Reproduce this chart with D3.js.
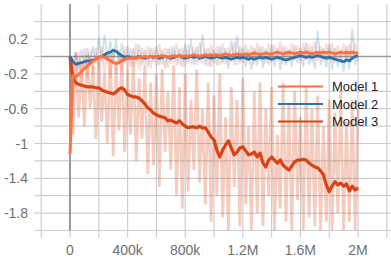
<!DOCTYPE html>
<html>
<head>
<meta charset="utf-8">
<script src="https://cdn.jsdelivr.net/npm/d3@7"></script>
<style>
    body { margin: 0; background: #fff; }
    text { font-family: "Liberation Sans", Arial, sans-serif; }
</style>
</head>
<body>
<script>
// Training steps in thousands, one point every 20k
var stepsK = [0, 20, 40, 60, 80, 100, 120, 140, 160, 180,
    200, 220, 240, 260, 280, 300, 320, 340, 360, 380,
    400, 420, 440, 460, 480, 500, 520, 540, 560, 580,
    600, 620, 640, 660, 680, 700, 720, 740, 760, 780,
    800, 820, 840, 860, 880, 900, 920, 940, 960, 980,
    1000, 1020, 1040, 1060, 1080, 1100, 1120, 1140, 1160, 1180,
    1200, 1220, 1240, 1260, 1280, 1300, 1320, 1340, 1360, 1380,
    1400, 1420, 1440, 1460, 1480, 1500, 1520, 1540, 1560, 1580,
    1600, 1620, 1640, 1660, 1680, 1700, 1720, 1740, 1760, 1780,
    1800, 1820, 1840, 1860, 1880, 1900, 1920, 1940, 1960, 1980,
    2000];

var seriesNames = ["Model 1", "Model 2", "Model 3"];

// smoothed values (bold lines)
var model1 = [-1.12, -0.22, -0.23, -0.21, -0.17, -0.14, -0.11, -0.08, -0.05, -0.03,
    -0.01, 0.0, -0.01, -0.03, -0.05, -0.07, -0.08, -0.07, -0.05, -0.03,
    -0.02, -0.02, -0.01, -0.02, -0.01, -0.01, 0.0, -0.01, 0.0, -0.01,
    0.0, 0.0, 0.01, 0.0, -0.01, 0.0, 0.01, 0.0, 0.01, 0.0,
    0.01, 0.0, 0.01, 0.02, 0.01, 0.0, 0.01, 0.02, 0.01, 0.02,
    0.01, 0.02, 0.01, 0.02, 0.03, 0.02, 0.01, 0.02, 0.03, 0.02,
    0.02, 0.03, 0.02, 0.03, 0.04, 0.03, 0.02, 0.03, 0.04, 0.03,
    0.03, 0.04, 0.05, 0.04, 0.03, 0.04, 0.05, 0.04, 0.03, 0.04,
    0.05, 0.04, 0.05, 0.04, 0.03, 0.04, 0.05, 0.04, 0.05, 0.04,
    0.05, 0.04, 0.03, 0.04, 0.05, 0.04, 0.05, 0.04, 0.05, 0.04,
    0.04];

var model2 = [0.0, -0.06, -0.09, -0.08, -0.07, -0.06, -0.05, -0.05, -0.04, -0.03,
    -0.01, 0.0, 0.02, 0.04, 0.05, 0.07, 0.06, 0.03, 0.01, -0.01,
    0.0, -0.01, -0.02, -0.01, 0.0, -0.01, -0.02, -0.01, 0.0, -0.01,
    0.0, -0.02, -0.01, 0.0, -0.01, -0.02, -0.01, 0.0, 0.01, -0.01,
    -0.02, -0.01, 0.0, -0.01, 0.0, -0.02, -0.01, 0.0, -0.01, -0.02,
    -0.01, 0.0, -0.01, -0.02, -0.01, -0.02, -0.03, -0.02, -0.01, -0.02,
    -0.01, -0.02, -0.03, -0.02, -0.03, -0.02, -0.01, -0.02, -0.01, -0.02,
    -0.03, -0.02, -0.01, -0.02, -0.03, -0.04, -0.03, -0.02, -0.01, 0.0,
    0.01, 0.0, -0.01, 0.0, -0.01, 0.0, 0.01, 0.0, -0.01, -0.02,
    -0.01, -0.02, -0.03, -0.04, -0.05, -0.06, -0.04, -0.05, -0.02, 0.0,
    0.01];

var model3 = [0.0, -0.25, -0.30, -0.32, -0.33, -0.34, -0.35, -0.35, -0.35, -0.36,
    -0.36, -0.385, -0.40, -0.41, -0.42, -0.43, -0.41, -0.375, -0.36, -0.385,
    -0.44, -0.45, -0.465, -0.465, -0.48, -0.51, -0.545, -0.59, -0.615, -0.65,
    -0.67, -0.685, -0.695, -0.705, -0.74, -0.73, -0.75, -0.765, -0.74, -0.775,
    -0.80, -0.82, -0.81, -0.81, -0.82, -0.80, -0.82, -0.82, -0.87, -0.925,
    -0.96, -1.075, -1.155, -1.075, -1.02, -0.97, -1.05, -1.13, -1.10, -1.05,
    -1.04, -1.085, -1.13, -1.12, -1.10, -1.155, -1.11, -1.225, -1.27, -1.19,
    -1.155, -1.19, -1.225, -1.19, -1.25, -1.28, -1.305, -1.26, -1.21, -1.19,
    -1.19, -1.18, -1.19, -1.225, -1.25, -1.27, -1.28, -1.315, -1.36, -1.475,
    -1.555, -1.49, -1.44, -1.475, -1.455, -1.49, -1.465, -1.545, -1.49, -1.535,
    -1.51];

// raw values (faint lines)
var model1Raw = [-1.12, -0.05, -0.35, 0.05, -0.3, 0.1, -0.25, 0.08, -0.2, 0.1,
    -0.15, 0.12, -0.2, 0.05, -0.25, 0.1, -0.2, 0.08, -0.18, 0.12,
    -0.15, 0.1, -0.12, 0.15, -0.15, 0.1, -0.1, 0.12, -0.14, 0.1,
    -0.12, 0.14, -0.1, 0.1, -0.13, 0.12, -0.08, 0.15, -0.1, 0.1,
    -0.12, 0.13, -0.09, 0.11, -0.1, 0.16, -0.08, 0.1, -0.12, 0.14,
    -0.07, 0.12, -0.1, 0.15, -0.09, 0.1, -0.06, 0.17, -0.1, 0.12,
    -0.08, 0.14, -0.06, 0.13, -0.1, 0.16, -0.05, 0.12, -0.08, 0.15,
    -0.07, 0.14, -0.04, 0.17, -0.09, 0.12, -0.06, 0.15, -0.05, 0.13,
    -0.08, 0.16, -0.04, 0.14, -0.07, 0.17, -0.05, 0.12, -0.06, 0.15,
    -0.04, 0.16, -0.07, 0.13, -0.05, 0.15, -0.06, 0.14, -0.04, 0.16,
    -0.05];

var model2Raw = [0.0, -0.12, 0.05, -0.15, 0.08, -0.12, 0.1, -0.1, 0.12, -0.08,
    0.22, -0.05, 0.25, -0.02, 0.18, -0.05, 0.2, -0.1, 0.15, -0.08,
    0.12, -0.12, 0.1, -0.08, 0.14, -0.1, 0.08, -0.12, 0.1, -0.06,
    0.12, -0.1, 0.08, -0.14, 0.1, -0.08, 0.12, -0.1, 0.09, -0.12,
    0.14, -0.08, 0.2, -0.1, 0.12, -0.06, 0.26, -0.1, 0.1, -0.12,
    0.08, -0.1, 0.12, -0.08, 0.1, -0.14, 0.18, -0.1, 0.24, -0.08,
    0.1, -0.12, 0.08, -0.15, 0.1, -0.1, 0.12, -0.13, 0.09, -0.1,
    0.14, -0.12, 0.1, -0.15, 0.12, -0.1, 0.08, -0.12, 0.14, -0.08,
    0.1, -0.12, 0.16, -0.1, 0.12, -0.14, 0.3, -0.1, 0.1, -0.12,
    0.14, -0.15, 0.1, -0.12, 0.08, -0.18, 0.12, -0.15, 0.32, -0.1,
    0.05];

var model3Raw = [0.0, -0.9, 0.05, -0.7, -0.05, -0.8, 0.02, -0.6, -0.1, -0.95,
    0.0, -0.75, -0.2, -1.0, 0.05, -1.15, -0.1, -0.85, 0.0, -1.1,
    -0.15, -0.9, -0.05, -1.2, -0.25, -0.95, -0.1, -1.35, -0.3, -1.25,
    -0.2, -1.5, -0.15, -1.1, -0.4, -1.3, -0.1, -1.6, -0.35, -1.75,
    -0.2, -1.55, -0.5, -1.3, -0.15, -1.45, -0.6, -1.7, -0.3, -1.9,
    -0.45, -1.6, -0.2, -1.85, -0.7, -2.0, -0.35, -1.5, -0.5, -1.95,
    -0.25, -1.7, -0.8, -2.0, -0.4, -1.8, -0.3, -1.95, -0.6, -1.6,
    -0.35, -2.0, -0.9, -1.75, -0.3, -1.9, -0.55, -2.0, -0.4, -1.65,
    -0.7, -2.0, -0.35, -1.85, -0.6, -1.95, -0.45, -2.0, -0.8, -1.9,
    -0.5, -2.0, -0.65, -1.8, -0.4, -2.0, -0.75, -1.9, -0.5, -2.0,
    -0.6];

var colors = ["#ff7043", "#2b74a8", "#d84315"];

var xTickValues = [0, 400000, 800000, 1200000, 1600000, 2000000];
var xTickLabels = ["0", "400k", "800k", "1.2M", "1.6M", "2M"];
var yTickValues = [0.2, -0.2, -0.6, -1, -1.4, -1.8];
var yTickLabels = ["0.2", "-0.2", "-0.6", "-1", "-1.4", "-1.8"];
var xGrid = [-200000, 0, 200000, 400000, 600000, 800000, 1000000,
    1200000, 1400000, 1600000, 1800000, 2000000, 2200000];
var yGrid = [0.4, 0.2, 0, -0.2, -0.4, -0.6, -0.8, -1, -1.2, -1.4,
    -1.6, -1.8, -2];

var width = 391,
    height = 262;

var svg = d3.select("body").append("svg")
    .attr("width", width)
    .attr("height", height);

var xScale = d3.scaleLinear()
    .domain([-200000, 2200000])
    .range([41.2, 386.8]);
var yScale = d3.scaleLinear()
    .domain([-2, 0.6])
    .range([230.5, 4.3]);

var tick = 7;

// grid
var grid = svg.append("g");
grid.selectAll("line.h")
    .data(yGrid)
    .enter().append("line")
    .attr("x1", xScale(-200000) - tick)
    .attr("x2", width)
    .attr("y1", function (d) { return yScale(d); })
    .attr("y2", function (d) { return yScale(d); })
    .attr("stroke", "#cfcfcf")
    .attr("stroke-width", 1.2);
grid.selectAll("line.v")
    .data(xGrid)
    .enter().append("line")
    .attr("x1", function (d) { return xScale(d); })
    .attr("x2", function (d) { return xScale(d); })
    .attr("y1", yScale(0.6))
    .attr("y2", yScale(-2) + tick)
    .attr("stroke", "#cfcfcf")
    .attr("stroke-width", 1.2);

// zero lines
svg.append("line")
    .attr("x1", xScale(-200000)).attr("x2", width)
    .attr("y1", yScale(0)).attr("y2", yScale(0))
    .attr("stroke", "#9a9a9a").attr("stroke-width", 1.6);
svg.append("line")
    .attr("x1", xScale(0)).attr("x2", xScale(0))
    .attr("y1", yScale(0.6)).attr("y2", yScale(-2))
    .attr("stroke", "#9a9a9a").attr("stroke-width", 2);

svg.append("clipPath").attr("id", "plot")
    .append("rect")
    .attr("x", xScale(-200000)).attr("y", yScale(0.6))
    .attr("width", xScale(2200000) - xScale(-200000))
    .attr("height", yScale(-2) - yScale(0.6));

var line = d3.line()
    .x(function (d, i) { return xScale(stepsK[i] * 1000); })
    .y(function (d) { return yScale(d); });

var plot = svg.append("g").attr("clip-path", "url(#plot)");

// faint raw lines
[[model3Raw, 2, 0.27, 2.8], [model1Raw, 0, 0.25, 2], [model2Raw, 1, 0.22, 1.8]]
    .forEach(function (s) {
        plot.append("path")
            .attr("d", line(s[0]))
            .attr("fill", "none")
            .attr("stroke", colors[s[1]])
            .attr("stroke-opacity", s[2])
            .attr("stroke-width", s[3]);
    });

// smoothed lines
[[model3, 2, 3.2], [model2, 1, 2.8], [model1, 0, 3]].forEach(function (s) {
    plot.append("path")
        .attr("d", line(s[0]))
        .attr("fill", "none")
        .attr("stroke", colors[s[1]])
        .attr("stroke-width", s[2])
        .attr("stroke-linejoin", "round");
});

// axis labels
svg.selectAll("text.ylab")
    .data(yTickValues)
    .enter().append("text")
    .attr("x", 28)
    .attr("y", function (d) { return yScale(d); })
    .attr("dy", "0.36em")
    .attr("text-anchor", "end")
    .attr("font-size", "14px")
    .attr("fill", "#707070")
    .text(function (d, i) { return yTickLabels[i]; });

svg.selectAll("text.xlab")
    .data(xTickValues)
    .enter().append("text")
    .attr("x", function (d) { return xScale(d); })
    .attr("y", 255)
    .attr("text-anchor", "middle")
    .attr("font-size", "14px")
    .attr("fill", "#707070")
    .text(function (d, i) { return xTickLabels[i]; });

// legend
var legend = svg.append("g");
seriesNames.forEach(function (name, i) {
    var ly = 86.5 + i * 17.5;
    legend.append("line")
        .attr("x1", 278).attr("x2", 323)
        .attr("y1", ly).attr("y2", ly)
        .attr("stroke", colors[i])
        .attr("stroke-width", 2);
    legend.append("text")
        .attr("x", 332)
        .attr("y", ly)
        .attr("dy", "0.36em")
        .attr("font-size", "13px")
        .attr("fill", "#222")
        .text(name);
});
</script>
</body>
</html>
